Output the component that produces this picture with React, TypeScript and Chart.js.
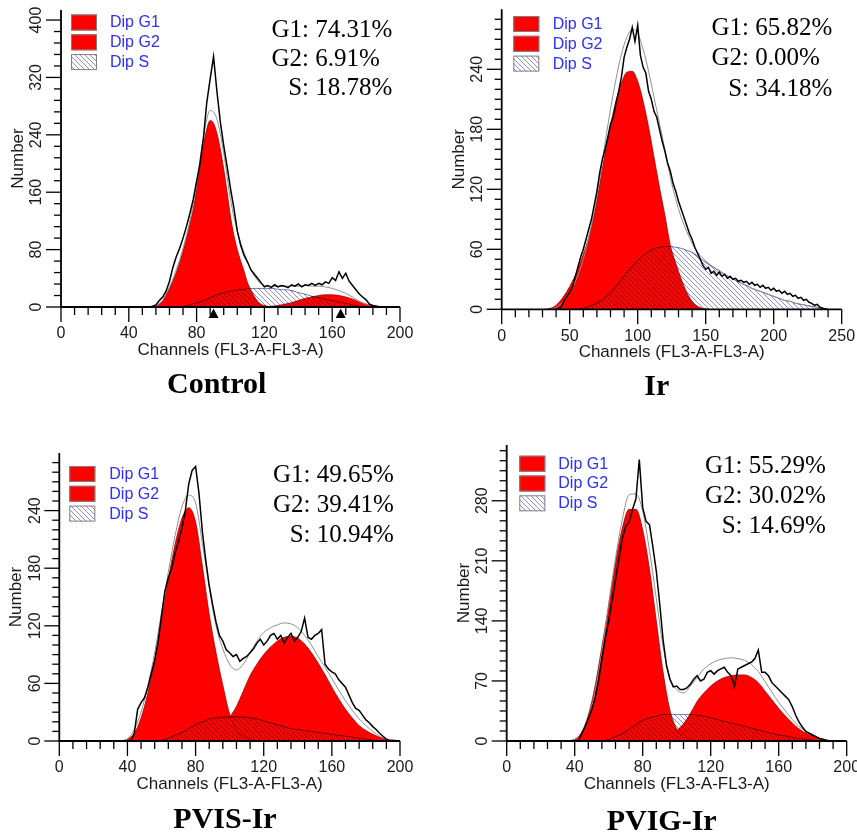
import React, { useEffect, useRef } from 'react';
import { Chart, registerables } from 'chart.js';

// ---------- blend plugin (registered before the built-ins so it runs before the filler) ----------
const blendPlugin: any = {
  id: 'datasetBlend',
  beforeDatasetDraw(chart: any, args: any) {
    const ds = chart.data.datasets[args.index];
    if (ds && ds.blend) {
      chart.ctx.save();
      chart.ctx.globalCompositeOperation = ds.blend;
    }
  },
  afterDatasetDraw(chart: any, args: any) {
    const ds = chart.data.datasets[args.index];
    if (ds && ds.blend) chart.ctx.restore();
  },
};
Chart.register(blendPlugin);
Chart.register(...registerables);

// ---------- data ----------
const LEGEND_LABELS = ['Dip G1', 'Dip G2', 'Dip S'];
const STAT_LABELS = ['G1:', 'G2:', 'S:'];
const TITLES = ['Control', 'Ir', 'PVIS-Ir', 'PVIG-Ir'];

const CONTROL_STATS = ['74.31%', '6.91%', '18.78%'];
const IR_STATS = ['65.82%', '0.00%', '34.18%'];
const PVIS_STATS = ['49.65%', '39.41%', '10.94%'];
const PVIG_STATS = ['55.29%', '30.02%', '14.69%'];

// Control (channels 0-200)
const CONTROL_HIST_START = 50, CONTROL_HIST_STEP = 2;
const CONTROL_HIST = [0, 0, 1, 3, 9, 14, 22, 36, 55, 70, 82, 96, 112, 130, 150, 175, 200, 235, 285, 318, 349, 300, 258, 225, 196, 165, 138, 106, 86, 72, 63, 52, 46, 40, 34, 28, 30, 27, 31, 28, 30, 29, 27, 31, 29, 32, 28, 31, 30, 33, 30, 33, 31, 35, 33, 41, 37, 49, 40, 47, 36, 30, 24, 18, 14, 10, 4, 2, 1, 0, 0];
const CONTROL_FIT_START = 52, CONTROL_FIT_STEP = 4;
const CONTROL_FIT = [0, 2, 10, 28, 52, 82, 120, 172, 236, 274, 262, 214, 150, 106, 76, 52, 37, 30, 29, 29, 29, 29, 29, 30, 29, 29, 28, 26, 23, 19, 14, 8, 4, 2, 1, 0];
const CONTROL_G1_START = 54, CONTROL_G1_STEP = 2;
const CONTROL_G1 = [0, 1, 4, 8, 17, 26, 36, 48, 62, 78, 96, 115, 136, 165, 195, 225, 248, 260, 256, 242, 220, 192, 160, 126, 100, 80, 64, 50, 34, 24, 15, 8, 4, 2, 1, 0];
const CONTROL_G2_START = 120, CONTROL_G2_STEP = 4;
const CONTROL_G2 = [0, 1, 2, 4, 6, 9, 12, 14, 16, 17, 17, 16, 14, 11, 7, 4, 2, 0];
const CONTROL_S_START = 68, CONTROL_S_STEP = 4;
const CONTROL_S = [0, 1, 3, 6, 9, 13, 17, 20, 22, 24, 25, 26, 26, 26, 26, 25, 24, 23, 20, 18, 15, 13, 11, 9, 7, 5, 3, 1, 0];
const CONTROL_MARKERS = [90, 165];

// Ir (channels 0-250)
const IR_HIST_START = 40, IR_HIST_STEP = 2;
const IR_HIST = [0, 1, 3, 9, 13, 17, 22, 32, 42, 52, 60, 70, 80, 90, 104, 118, 136, 150, 160, 172, 185, 192, 206, 218, 232, 252, 262, 270, 282, 268, 284, 254, 242, 236, 218, 210, 198, 192, 180, 168, 158, 146, 138, 126, 118, 108, 100, 92, 84, 76, 70, 62, 56, 50, 44, 40, 42, 36, 38, 34, 37, 33, 35, 31, 33, 30, 31, 28, 29, 27, 28, 25, 27, 24, 25, 22, 24, 21, 22, 19, 21, 18, 19, 16, 18, 15, 16, 13, 14, 11, 12, 9, 10, 7, 6, 4, 5, 2, 1, 0, 0];
const IR_FIT_START = 36, IR_FIT_STEP = 4;
const IR_FIT = [0, 2, 6, 12, 21, 34, 50, 72, 98, 130, 166, 200, 230, 255, 272, 280, 276, 260, 238, 212, 186, 160, 132, 110, 92, 78, 66, 57, 51, 46, 42, 39, 35, 32, 29, 26, 24, 21, 19, 17, 15, 13, 11, 9, 8, 6, 5, 4, 3, 2, 1, 0];
const IR_G1_START = 32, IR_G1_STEP = 4;
const IR_G1 = [0, 1, 4, 10, 18, 28, 40, 55, 72, 94, 124, 156, 184, 208, 226, 237, 238, 228, 208, 182, 152, 122, 94, 64, 46, 30, 17, 8, 3, 1, 0];
const IR_G2_START = 0, IR_G2_STEP = 4;
const IR_G2: number[] = [];
const IR_S_START = 56, IR_S_STEP = 4;
const IR_S = [0, 1, 3, 5, 8, 12, 17, 23, 30, 37, 43, 49, 54, 58, 61, 62, 63, 63, 62, 61, 59, 57, 53, 49, 45, 42, 38, 35, 32, 29, 26, 24, 21, 19, 17, 15, 13, 11, 9, 8, 6, 5, 4, 3, 2, 1, 0];

// PVIS-Ir (channels 0-200)
const PVIS_HIST_START = 40, PVIS_HIST_STEP = 2;
const PVIS_HIST = [0, 0, 8, 33, 40, 45, 56, 70, 84, 104, 130, 156, 170, 180, 196, 208, 222, 240, 268, 282, 286, 258, 218, 188, 162, 142, 124, 110, 104, 95, 92, 88, 90, 83, 86, 88, 92, 96, 102, 106, 100, 104, 110, 112, 106, 110, 102, 108, 112, 104, 108, 114, 128, 108, 106, 110, 112, 116, 80, 75, 72, 70, 64, 60, 56, 48, 40, 34, 32, 27, 22, 19, 15, 12, 8, 5, 2, 0, 0];
const PVIS_FIT_START = 36, PVIS_FIT_STEP = 4;
const PVIS_FIT = [0, 2, 12, 30, 58, 92, 134, 176, 214, 244, 256, 248, 206, 160, 120, 96, 80, 74, 80, 92, 104, 113, 118, 121, 123, 122, 118, 110, 100, 88, 77, 65, 53, 42, 32, 23, 16, 10, 5, 2, 1, 0];
const PVIS_G1_START = 36, PVIS_G1_STEP = 4;
const PVIS_G1 = [0, 2, 8, 24, 50, 84, 125, 168, 205, 232, 243, 228, 182, 132, 92, 58, 28, 12, 5, 2, 0];
const PVIS_G2_START = 84, PVIS_G2_STEP = 4;
const PVIS_G2 = [2, 5, 10, 17, 25, 36, 52, 68, 80, 90, 98, 104, 108, 109, 107, 101, 92, 81, 69, 56, 44, 33, 24, 16, 11, 7, 4, 2, 1, 0];
const PVIS_S_START = 56, PVIS_S_STEP = 4;
const PVIS_S = [0, 1, 3, 6, 9, 13, 17, 20, 23, 24, 25, 25, 25, 25, 24, 23, 21, 19, 17, 15, 13, 12, 11, 10, 9, 8, 7, 6, 5, 4, 3, 2, 1, 0];

// PVIG-Ir (channels 0-200)
const PVIG_HIST_START = 40, PVIG_HIST_STEP = 2;
const PVIG_HIST = [0, 0, 8, 16, 26, 36, 50, 70, 96, 120, 140, 164, 188, 212, 236, 250, 255, 270, 282, 328, 272, 256, 252, 226, 198, 160, 118, 88, 72, 63, 64, 60, 60, 62, 66, 72, 76, 70, 72, 80, 82, 78, 82, 84, 86, 80, 76, 64, 84, 86, 88, 90, 92, 96, 106, 80, 80, 76, 68, 64, 60, 56, 52, 48, 40, 30, 22, 16, 11, 9, 7, 5, 3, 2, 1, 0];
const PVIG_FIT_START = 36, PVIG_FIT_STEP = 4;
const PVIG_FIT = [0, 2, 8, 26, 58, 104, 160, 213, 258, 287, 288, 268, 222, 166, 110, 74, 60, 56, 64, 74, 84, 90, 94, 96, 97, 96, 94, 89, 81, 69, 57, 45, 35, 25, 17, 11, 7, 3, 1, 0, 0];
const PVIG_G1_START = 36, PVIG_G1_STEP = 4;
const PVIG_G1 = [0, 2, 10, 30, 64, 110, 158, 208, 248, 270, 270, 246, 200, 140, 80, 36, 14, 5, 2, 0];
const PVIG_G2_START = 88, PVIG_G2_STEP = 4;
const PVIG_G2 = [0, 2, 6, 12, 20, 32, 46, 56, 64, 70, 74, 76, 77, 77, 74, 68, 58, 48, 38, 29, 21, 14, 9, 6, 3, 1, 0];
const PVIG_S_START = 56, PVIG_S_STEP = 4;
const PVIG_S = [0, 2, 5, 9, 14, 19, 24, 27, 29, 31, 31, 31, 31, 31, 30, 29, 27, 25, 23, 21, 19, 17, 15, 13, 11, 9, 7, 6, 4, 3, 2, 1, 0];

// ---------- styling ----------
const SANS = 'Arial, "Liberation Sans", Helvetica, sans-serif';
const SERIF = '"Times New Roman", "Liberation Serif", Times, serif';
const RED = '#ff0000';

function pts(start: number, step: number, vals: number[]) {
  return vals.map((y, i) => ({ x: start + i * step, y }));
}

type Series = { start: number; step: number; vals: number[] };
type PanelCfg = {
  title: string;
  left: number; top: number; width: number; height: number;
  pad: { left: number; right: number; top: number; bottom: number };
  xMax: number; xMajor: number; xPer: number;
  yMax: number; yMajor: number; yPer: number;
  hist: Series; fit: Series; g1: Series; g2: Series; s: Series;
  stats: string[]; statX: number; statY: number[];
  legendX: number; legendY: number; legendTextX: number;
  titleX: number; titleY: number;
  markers: number[];
};

const PANELS: PanelCfg[] = [
  {
    title: TITLES[0], left: 0, top: 0, width: 430, height: 404,
    pad: { left: 61, right: 30, top: 10, bottom: 97 },
    xMax: 200, xMajor: 40, xPer: 5, yMax: 414, yMajor: 80, yPer: 5,
    hist: { start: CONTROL_HIST_START, step: CONTROL_HIST_STEP, vals: CONTROL_HIST },
    fit: { start: CONTROL_FIT_START, step: CONTROL_FIT_STEP, vals: CONTROL_FIT },
    g1: { start: CONTROL_G1_START, step: CONTROL_G1_STEP, vals: CONTROL_G1 },
    g2: { start: CONTROL_G2_START, step: CONTROL_G2_STEP, vals: CONTROL_G2 },
    s: { start: CONTROL_S_START, step: CONTROL_S_STEP, vals: CONTROL_S },
    stats: CONTROL_STATS, statX: 271.5, statY: [36.7, 65.7, 95],
    legendX: 71, legendY: 14.5, legendTextX: 110,
    titleX: 216.7, titleY: 393, markers: CONTROL_MARKERS,
  },
  {
    title: TITLES[1], left: 430, top: 0, width: 427, height: 404,
    pad: { left: 71.7, right: 15.3, top: 9.3, bottom: 94.7 },
    xMax: 250, xMajor: 50, xPer: 5, yMax: 300, yMajor: 60, yPer: 6,
    hist: { start: IR_HIST_START, step: IR_HIST_STEP, vals: IR_HIST },
    fit: { start: IR_FIT_START, step: IR_FIT_STEP, vals: IR_FIT },
    g1: { start: IR_G1_START, step: IR_G1_STEP, vals: IR_G1 },
    g2: { start: IR_G2_START, step: IR_G2_STEP, vals: IR_G2 },
    s: { start: IR_S_START, step: IR_S_STEP, vals: IR_S },
    stats: IR_STATS, statX: 281.5, statY: [35, 65, 95.5],
    legendX: 83.3, legendY: 16, legendTextX: 122.7,
    titleX: 226.7, titleY: 395, markers: [],
  },
  {
    title: TITLES[2], left: 0, top: 430, width: 430, height: 404,
    pad: { left: 59.3, right: 30, top: 23, bottom: 93 },
    xMax: 200, xMajor: 40, xPer: 5, yMax: 300, yMajor: 60, yPer: 6,
    hist: { start: PVIS_HIST_START, step: PVIS_HIST_STEP, vals: PVIS_HIST },
    fit: { start: PVIS_FIT_START, step: PVIS_FIT_STEP, vals: PVIS_FIT },
    g1: { start: PVIS_G1_START, step: PVIS_G1_STEP, vals: PVIS_G1 },
    g2: { start: PVIS_G2_START, step: PVIS_G2_STEP, vals: PVIS_G2 },
    s: { start: PVIS_S_START, step: PVIS_S_STEP, vals: PVIS_S },
    stats: PVIS_STATS, statX: 273, statY: [51.7, 81.7, 111.7],
    legendX: 69.3, legendY: 36, legendTextX: 109.3,
    titleX: 225, titleY: 398.3, markers: [],
  },
  {
    title: TITLES[3], left: 430, top: 430, width: 427, height: 404,
    pad: { left: 76.7, right: 10.3, top: 15, bottom: 93 },
    xMax: 200, xMajor: 40, xPer: 5, yMax: 345, yMajor: 70, yPer: 6,
    hist: { start: PVIG_HIST_START, step: PVIG_HIST_STEP, vals: PVIG_HIST },
    fit: { start: PVIG_FIT_START, step: PVIG_FIT_STEP, vals: PVIG_FIT },
    g1: { start: PVIG_G1_START, step: PVIG_G1_STEP, vals: PVIG_G1 },
    g2: { start: PVIG_G2_START, step: PVIG_G2_STEP, vals: PVIG_G2 },
    s: { start: PVIG_S_START, step: PVIG_S_STEP, vals: PVIG_S },
    stats: PVIG_STATS, statX: 275, statY: [43.3, 73.3, 103.3],
    legendX: 89.3, legendY: 25.7, legendTextX: 128.3,
    titleX: 231.7, titleY: 400, markers: [],
  },
];

function makeHatch(ctx: CanvasRenderingContext2D, color: string) {
  const s = 5;
  const c = document.createElement('canvas');
  c.width = s; c.height = s;
  const g = c.getContext('2d')!;
  g.strokeStyle = color;
  g.lineWidth = 1;
  for (let k = -1; k <= 1; k++) {
    g.beginPath();
    g.moveTo(0, k * s);
    g.lineTo(s, s + k * s);
    g.stroke();
  }
  return ctx.createPattern(c, 'repeat')!;
}

function decorPlugin(cfg: PanelCfg, hatch: CanvasPattern) {
  return {
    id: 'decor',
    afterDatasetsDraw(chart: any) {
      const { ctx, chartArea: ca } = chart;
      const x = chart.scales.x;
      const y = chart.scales.y;
      ctx.save();
      // axis lines
      ctx.strokeStyle = '#000';
      ctx.lineWidth = 1.8;
      ctx.beginPath();
      ctx.moveTo(ca.left, ca.top);
      ctx.lineTo(ca.left, ca.bottom);
      ctx.lineTo(ca.right, ca.bottom);
      ctx.stroke();

      // x ticks
      ctx.lineWidth = 1.3;
      const xMinor = cfg.xMajor / cfg.xPer;
      const nx = Math.round(cfg.xMax / xMinor);
      ctx.fillStyle = '#1a1a1a';
      ctx.font = `16px ${SANS}`;
      ctx.textAlign = 'center';
      ctx.textBaseline = 'middle';
      for (let i = 0; i <= nx; i++) {
        const v = i * xMinor;
        const px = x.getPixelForValue(v);
        const major = i % cfg.xPer === 0;
        ctx.beginPath();
        ctx.moveTo(px, ca.bottom);
        ctx.lineTo(px, ca.bottom + (major ? 15 : 8));
        ctx.stroke();
        if (major) ctx.fillText(String(Math.round(v)), px, ca.bottom + 27);
      }
      // x title
      ctx.font = `17px ${SANS}`;
      ctx.fillText('Channels (FL3-A-FL3-A)', (ca.left + ca.right) / 2, ca.bottom + 43);

      // y ticks
      const yMinor = cfg.yMajor / cfg.yPer;
      ctx.font = `16px ${SANS}`;
      for (let i = 0; ; i++) {
        const v = i * yMinor;
        if (v > cfg.yMax - 2) break;
        const py = y.getPixelForValue(v);
        const major = i % cfg.yPer === 0;
        ctx.beginPath();
        ctx.moveTo(ca.left, py);
        ctx.lineTo(ca.left - (major ? 15 : 7), py);
        ctx.stroke();
        if (major) {
          ctx.save();
          ctx.translate(ca.left - 24, py);
          ctx.rotate(-Math.PI / 2);
          ctx.fillText(String(Math.round(v)), 0, 0);
          ctx.restore();
        }
      }
      // y title
      ctx.save();
      ctx.font = `17px ${SANS}`;
      ctx.translate(ca.left - 42.5, (ca.top + ca.bottom) / 2);
      ctx.rotate(-Math.PI / 2);
      ctx.fillText('Number', 0, 0);
      ctx.restore();

      // peak markers
      ctx.fillStyle = '#000';
      cfg.markers.forEach((m) => {
        const px = x.getPixelForValue(m);
        ctx.beginPath();
        ctx.moveTo(px, ca.bottom + 1.5);
        ctx.lineTo(px - 5, ca.bottom + 11);
        ctx.lineTo(px + 5, ca.bottom + 11);
        ctx.closePath();
        ctx.fill();
      });

      // legend
      const fills: any[] = [RED, RED, hatch];
      LEGEND_LABELS.forEach((lab, i) => {
        const bx = cfg.legendX;
        const by = cfg.legendY + i * 19.8;
        ctx.fillStyle = '#fff';
        ctx.fillRect(bx, by, 26, 16);
        ctx.fillStyle = fills[i];
        ctx.fillRect(bx, by, 26, 16);
        ctx.strokeStyle = '#808080';
        ctx.lineWidth = 1;
        ctx.strokeRect(bx + 0.5, by + 0.5, 25, 15);
        ctx.fillStyle = '#2d2dff';
        ctx.font = `16px ${SANS}`;
        ctx.textAlign = 'left';
        ctx.textBaseline = 'middle';
        ctx.fillText(lab, cfg.legendTextX, by + 8.5);
      });

      // stats: G1/G2 lines left-aligned, S line right-aligned with the G1 line
      ctx.fillStyle = '#000';
      ctx.font = `25px ${SERIF}`;
      ctx.textBaseline = 'alphabetic';
      const lines = STAT_LABELS.map((lab, i) => `${lab} ${cfg.stats[i]}`);
      const rightEdge = cfg.statX + ctx.measureText(lines[0]).width;
      lines.forEach((line, i) => {
        if (i < 2) {
          ctx.textAlign = 'left';
          ctx.fillText(line, cfg.statX, cfg.statY[i]);
        } else {
          ctx.textAlign = 'right';
          ctx.fillText(line, rightEdge, cfg.statY[i]);
        }
      });

      // panel title
      ctx.font = `bold 30px ${SERIF}`;
      ctx.textAlign = 'center';
      ctx.fillText(cfg.title, cfg.titleX, cfg.titleY);
      ctx.restore();
    },
  };
}

function Panel({ cfg }: { cfg: PanelCfg }) {
  const ref = useRef<HTMLCanvasElement>(null);
  useEffect(() => {
    const canvas = ref.current!;
    const ctx = canvas.getContext('2d')!;
    const hatch = makeHatch(ctx, 'rgb(140,140,240)');
    const smooth = { pointRadius: 0, cubicInterpolationMode: 'monotone' as const };
    const chart = new Chart(ctx, {
      type: 'line',
      data: {
        datasets: [
          {
            label: 'Histogram', data: pts(cfg.hist.start, cfg.hist.step, cfg.hist.vals),
            borderColor: '#000', borderWidth: 1.5, pointRadius: 0, fill: false, tension: 0, order: 0,
          },
          {
            label: 'Fit', data: pts(cfg.fit.start, cfg.fit.step, cfg.fit.vals),
            borderColor: '#8f8f8f', borderWidth: 1, fill: false, order: 1, ...smooth,
          },
          {
            label: LEGEND_LABELS[2], data: pts(cfg.s.start, cfg.s.step, cfg.s.vals),
            borderColor: 'rgb(90,90,160)', borderWidth: 0.8, backgroundColor: hatch, fill: 'origin',
            order: 2, blend: 'multiply', ...smooth,
          } as any,
          {
            label: LEGEND_LABELS[0], data: pts(cfg.g1.start, cfg.g1.step, cfg.g1.vals),
            borderColor: '#a00000', borderWidth: 0.8, backgroundColor: RED, fill: 'origin', order: 3, ...smooth,
          },
          {
            label: LEGEND_LABELS[1], data: pts(cfg.g2.start, cfg.g2.step, cfg.g2.vals),
            borderColor: '#a00000', borderWidth: 0.8, backgroundColor: RED, fill: 'origin', order: 4, ...smooth,
          },
        ],
      },
      options: {
        animation: false,
        responsive: false,
        devicePixelRatio: 1,
        events: [],
        layout: { padding: cfg.pad },
        scales: {
          x: { type: 'linear', min: 0, max: cfg.xMax, display: false },
          y: { type: 'linear', min: 0, max: cfg.yMax, display: false },
        },
        plugins: { legend: { display: false }, tooltip: { enabled: false }, title: { display: false } },
      } as any,
      plugins: [decorPlugin(cfg, hatch) as any],
    });
    return () => chart.destroy();
  }, [cfg]);
  return (
    <canvas
      ref={ref}
      width={cfg.width}
      height={cfg.height}
      style={{ position: 'absolute', left: cfg.left, top: cfg.top, width: cfg.width, height: cfg.height }}
    />
  );
}

export default function App() {
  return (
    <div style={{ position: 'absolute', left: 0, top: 0, width: 857, height: 834, background: '#fff', overflow: 'hidden' }}>
      {PANELS.map((p) => (
        <Panel key={p.title} cfg={p} />
      ))}
    </div>
  );
}
